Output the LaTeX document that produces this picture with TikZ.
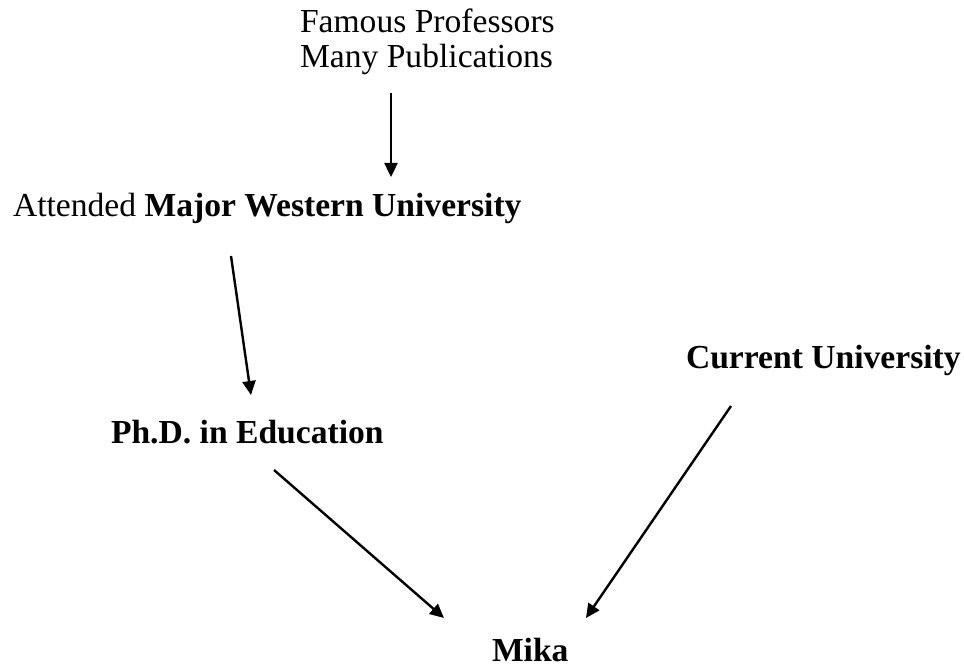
\documentclass[tikz,border=0pt]{standalone}
\usepackage{fontspec}
\setmainfont{Liberation Serif}
\usepackage{tikz}
\usetikzlibrary{positioning, arrows.meta, calc}

\begin{document}
\begin{tikzpicture}[
  x=1pt, y=-1pt,
  font=\fontsize{33.6}{35}\selectfont,
  lbl/.style={inner sep=0pt, outer sep=0pt},
  bold/.style={lbl, anchor=base west, font=\fontsize{33.6}{35}\selectfont\bfseries},
  link/.style={-{Triangle[length=14pt, width=13pt]}, line width=2.4pt},
]
\useasboundingbox (0,0) rectangle (964,671);

% Text blocks
\node[lbl, align=left, anchor=north west] (prof) at (300,9)
  {Famous Professors\\Many Publications};
\node[lbl, anchor=base west] (attended) at (13,217)
  {Attended \textbf{Major Western University}};
\node[bold] (phd) at (111,443) {Ph.D. in Education};
\node[bold] (current) at (686,368) {Current University};
\node[bold] (mika) at (492,661) {Mika};

% Arrows
\draw[link] ($(prof.south west)+(91,18)$) -- ($(attended.base west)+(378,-40)$);
\draw[link] ($(attended.base west)+(218,39)$) -- ($(phd.base west)+(140,-48)$);
\draw[link] ($(phd.base west)+(163,27)$) -- ($(mika.base west)+(-48,-43)$);
\draw[link] ($(current.base west)+(45,38)$) -- ($(mika.base west)+(94,-43)$);

\end{tikzpicture}
\end{document}
